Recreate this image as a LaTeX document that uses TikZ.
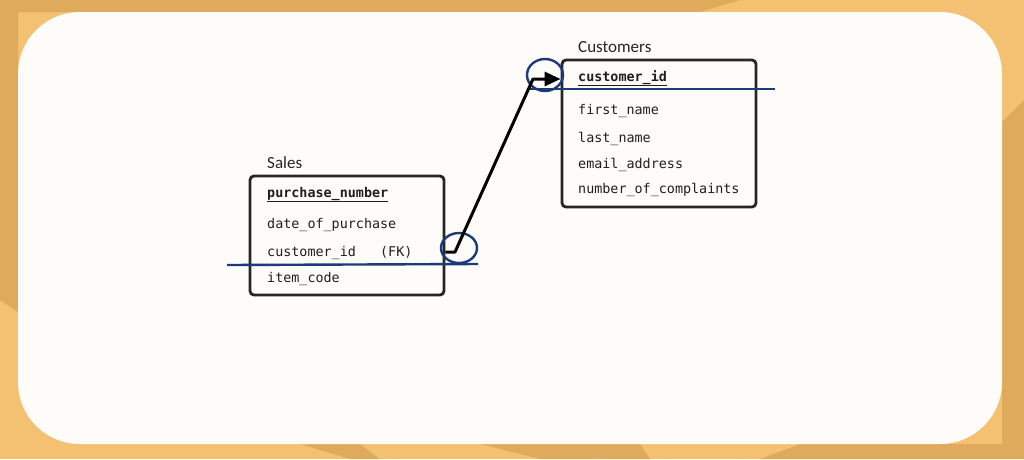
\documentclass[tikz,border=0pt]{standalone}
\usepackage{fontspec}
\setmainfont{Carlito}
\newfontfamily\codefont{DejaVu Sans Mono}
\usetikzlibrary{arrows.meta,calc,shapes.geometric}
\definecolor{bgdark}{HTML}{E0AA5C}
\definecolor{bglight}{HTML}{F4C173}
\definecolor{card}{HTML}{FDFCF8}
\definecolor{navy}{HTML}{1D3A7C}
\tikzset{
  tablebox/.style={draw=black!85, line width=2.8pt, rounded corners=4pt, inner sep=0pt},
  rowtext/.style={anchor=base west, inner sep=0pt, font=\codefont\fontsize{13.4}{15}\selectfont, text=black!88},
  titletext/.style={anchor=base west, inner sep=0pt, font=\fontsize{17}{19}\selectfont, text=black!85},
  keyline/.style={draw=navy, line width=2.4pt},
  keyring/.style={draw=navy, line width=2.4pt},
  conn/.style={draw=black, line width=3pt, line join=round, -{Triangle[length=16pt,width=14pt]}}
}
\begin{document}
\begin{tikzpicture}[x=1pt,y=-1pt]
\useasboundingbox (0,0) rectangle (1024,459);
% background
\fill[bglight] (0,0) rectangle (1024,459);
\fill[bgdark] (0,0) -- (740,0) -- (700,12) -- (18,12) -- (18,312) -- (0,300) -- cycle;
\fill[bgdark] (1024,100) -- (1024,459) -- (760,459) -- (800,444) -- (1002,444) -- (1002,122) -- cycle;
\fill[bgdark] (300,444) -- (360,444) -- (380,459) -- (350,459) -- cycle;
\fill[bgdark] (480,444) -- (560,444) -- (600,459) -- (540,459) -- cycle;
\fill[bgdark] (560,444) -- (640,444) -- (650,459) -- (600,459) -- cycle;
% card
\fill[card, rounded corners=62pt] (18,12) rectangle (1002,444);

% Sales table
\node[tablebox, minimum width=194pt, minimum height=119pt] (sales) at (347,235.5) {};
\node[titletext] (salestitle) at (267,168) {Sales};
\node[rowtext] (pn) at (267,197) {\underline{\textbf{purchase\_number}}};
\node[rowtext] (dop) at (267,228) {date\_of\_purchase};
\node[rowtext] (fk) at (267,256) {customer\_id\ \ \ (FK)};
\node[rowtext] (ic) at (267,282) {item\_code};

% Customers table
\node[tablebox, minimum width=194pt, minimum height=147pt] (cust) at (659,133.5) {};
\node[titletext] (custtitle) at (578,52) {Customers};
\node[rowtext] (cid) at (578,81) {\underline{\textbf{customer\_id}}};
\node[rowtext] (fn) at (578,114) {first\_name};
\node[rowtext] (ln) at (578,142) {last\_name};
\node[rowtext] (ea) at (578,168) {email\_address};
\node[rowtext] (noc) at (578,193) {number\_of\_complaints};

% key markers
\coordinate (sl1) at (227,265);
\coordinate (sl2) at (478,264);
\draw[keyline] (sl1) -- (sl2);
\coordinate (cl1) at (527,89);
\coordinate (cl2) at (775,89);
\draw[keyline] (cl1) -- (cl2);
\node[keyring, ellipse, minimum width=36pt, minimum height=30pt, inner sep=0pt] (ring1) at (459,248) {};
\node[keyring, ellipse, minimum width=36pt, minimum height=32pt, inner sep=0pt] (ring2) at (545,75) {};

% connector
\coordinate (bend1) at (455,252);
\coordinate (bend2) at (533,79);
\draw[conn] (sales.east |- bend1) -- (bend1) -- (bend2) -- (cust.west |- bend2);
\end{tikzpicture}
\end{document}
